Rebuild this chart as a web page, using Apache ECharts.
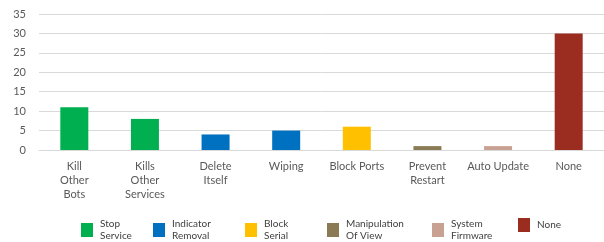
<!DOCTYPE html>
<html><head><meta charset="utf-8">
<script src="https://cdn.jsdelivr.net/npm/echarts@6/dist/echarts.min.js"></script>
<style>html,body{margin:0;padding:0;background:#fff}#c{width:604px;height:242px}</style>
</head><body><div id="c"></div>
<script>
var categories = ['Kill\nOther\nBots', 'Kills\nOther\nServices', 'Delete\nItself', 'Wiping', 'Block Ports', 'Prevent\nRestart', 'Auto Update', 'None'];
var values = [11, 8, 4, 5, 6, 1, 1, 30];
var categoryGroup = ['Stop Service', 'Stop Service', 'Indicator Removal', 'Indicator Removal', 'Block Serial', 'Manipulation Of View', 'System Firmware', 'None'];
var groupNames = ['Stop Service', 'Indicator Removal', 'Block Serial', 'Manipulation Of View', 'System Firmware', 'None'];
var groupLabels = ['Stop\nService', 'Indicator\nRemoval', 'Block\nSerial', 'Manipulation\nOf View', 'System\nFirmware', 'None'];
var groupColors = ['#00B050', '#0070C0', '#FFC000', '#8A7B55', '#C9A193', '#9B2D20'];
var yTicks = [0, 5, 10, 15, 20, 25, 30, 35];

var legendLeft = [81, 153, 245, 327, 432, 518];
var font = 'Lato, "Open Sans", sans-serif';

var series = groupNames.map(function (g, gi) {
  return {
    name: g, type: 'bar', stack: 'all', barWidth: 28,
    itemStyle: { color: groupColors[gi] },
    data: values.map(function (v, i) { return categoryGroup[i] === g ? v : '-'; })
  };
});

var legends = groupNames.map(function (g, gi) {
  return {
    data: [g], left: legendLeft[gi], top: 218, itemWidth: 12, itemHeight: 14, itemGap: 0,
    icon: 'rect', padding: 0,
    formatter: function () { return groupLabels[gi]; },
    textStyle: { fontFamily: font, fontSize: 10, color: '#404040', lineHeight: 12, padding: [0, 0, 0, 2] }
  };
});

var chart = echarts.init(document.getElementById('c'), null, { renderer: 'canvas' });
chart.setOption({
  animation: false,
  grid: { left: 39, right: 0, top: 14, bottom: 92 },
  legend: legends,
  xAxis: {
    type: 'category', data: categories,
    axisLine: { lineStyle: { color: '#d9d9d9' } },
    axisTick: { show: false },
    axisLabel: { interval: 0, fontFamily: font, fontSize: 11, color: '#595959', lineHeight: 14, margin: 9 }
  },
  yAxis: {
    type: 'value', min: yTicks[0], max: yTicks[yTicks.length - 1], interval: 5,
    axisLine: { show: false }, axisTick: { show: false },
    splitLine: { lineStyle: { color: '#d9d9d9' } },
    axisLabel: { fontFamily: font, fontSize: 11, color: '#595959', margin: 13 }
  },
  series: series
});
</script></body></html>
